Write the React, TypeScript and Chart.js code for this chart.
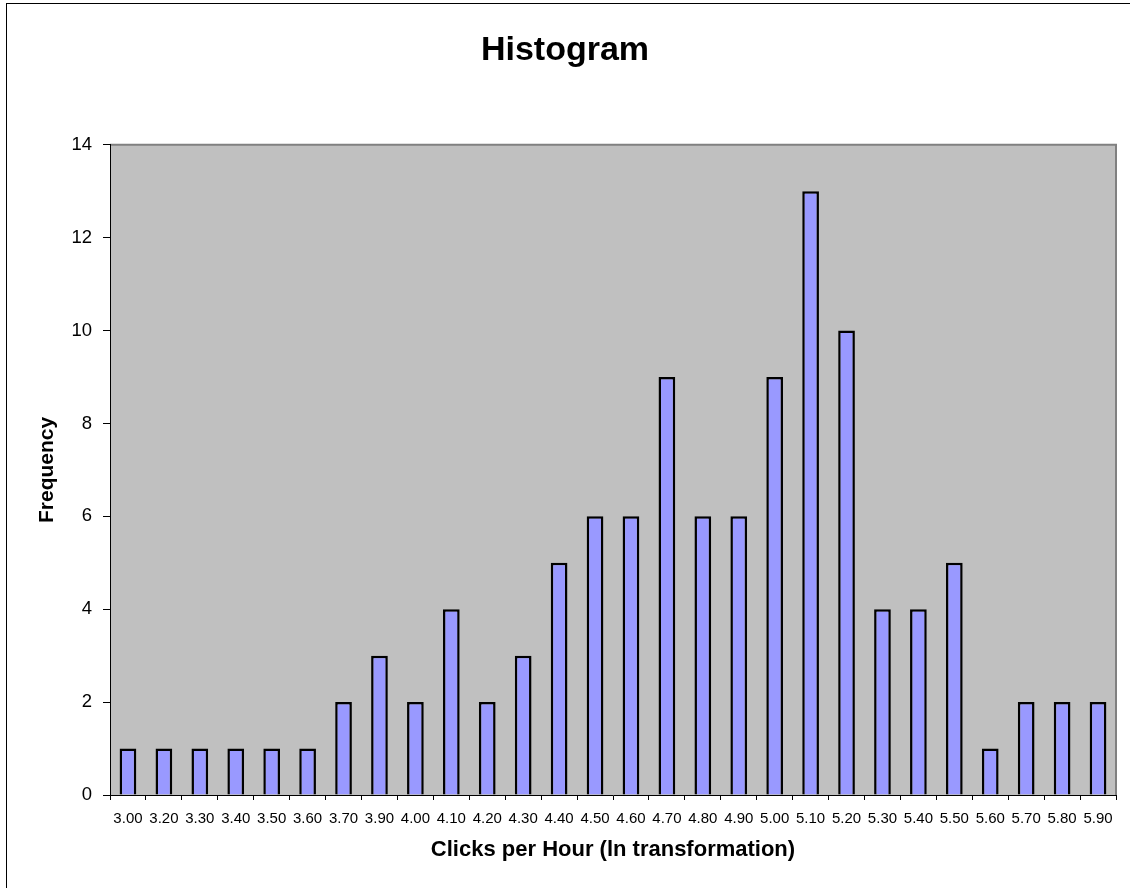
import React, { useEffect, useRef } from "react";
import { Chart, registerables } from "chart.js";

Chart.register(...registerables);

const categories = [
  "3.00", "3.20", "3.30", "3.40", "3.50", "3.60", "3.70", "3.90", "4.00", "4.10",
  "4.20", "4.30", "4.40", "4.50", "4.60", "4.70", "4.80", "4.90", "5.00", "5.10",
  "5.20", "5.30", "5.40", "5.50", "5.60", "5.70", "5.80", "5.90",
];
const frequency = [
  1, 1, 1, 1, 1, 1, 2, 3, 2, 4,
  2, 3, 5, 6, 6, 9, 6, 6, 9, 13,
  10, 4, 4, 5, 1, 2, 2, 2,
];
const yTicks = [0, 2, 4, 6, 8, 10, 12, 14];

const FONT = "'Liberation Sans', Arial, sans-serif";

const frame = {
  id: "frame",
  beforeDraw(chart: any) {
    const { ctx, chartArea: a } = chart;
    ctx.save();
    ctx.fillStyle = "#ffffff";
    ctx.fillRect(0, 0, chart.width, chart.height);
    ctx.strokeStyle = "#000000";
    ctx.lineWidth = 1;
    ctx.strokeRect(6.5, 3.5, chart.width + 20, chart.height + 20);
    ctx.fillStyle = "#C0C0C0";
    ctx.fillRect(a.left, a.top, a.right - a.left, a.bottom - a.top);
    ctx.strokeStyle = "#808080";
    ctx.lineWidth = 2;
    ctx.beginPath();
    ctx.moveTo(a.left, a.top);
    ctx.lineTo(a.right, a.top);
    ctx.lineTo(a.right, a.bottom);
    ctx.stroke();
    ctx.restore();
  },
};

export default function App() {
  const ref = useRef<HTMLCanvasElement>(null);
  useEffect(() => {
    if (!ref.current) return;
    const chart = new Chart(ref.current, {
      type: "bar",
      data: {
        labels: categories,
        datasets: [
          {
            data: frequency,
            backgroundColor: "#9999FF",
            borderColor: "#000000",
            borderWidth: 2.5,
            barPercentage: 0.465,
            categoryPercentage: 1,
          },
        ],
      },
      options: {
        responsive: false,
        animation: false,
        layout: { padding: { left: 14, right: 14, top: 0, bottom: 0 } },
        plugins: {
          legend: { display: false },
          tooltip: { enabled: false },
          title: {
            display: true,
            text: "Histogram",
            color: "#000",
            font: { family: FONT, size: 34, weight: "bold" },
            padding: { top: 30, bottom: 74 },
          },
        },
        scales: {
          x: {
            afterFit: (s: any) => { s.height = 93; },
            grid: {
              offset: true,
              drawOnChartArea: false,
              drawTicks: true,
              tickLength: 5,
              color: "#000",
            },
            border: { display: true, color: "#000", width: 1 },
            ticks: {
              color: "#000",
              font: { family: FONT, size: 15 },
              padding: 10,
              maxRotation: 0,
              autoSkip: false,
            },
            title: {
              display: true,
              text: "Clicks per Hour (ln transformation)",
              color: "#000",
              font: { family: FONT, size: 22, weight: "bold" },
              padding: { top: 0, bottom: 25 },
            },
          },
          y: {
            min: 0,
            max: 14,
            afterFit: (s: any) => { s.width = 96; },
            afterBuildTicks: (s: any) => { s.ticks = yTicks.map((v) => ({ value: v })); },
            grid: {
              drawOnChartArea: false,
              drawTicks: true,
              tickLength: 7,
              color: "#000",
            },
            border: { display: true, color: "#000", width: 1 },
            ticks: {
              color: "#000",
              font: { family: FONT, size: 18.5 },
              padding: 11,
            },
            title: {
              display: true,
              text: "Frequency",
              color: "#000",
              font: { family: FONT, size: 21, weight: "bold" },
              padding: { top: 21, bottom: 0 },
            },
          },
        },
      },
      plugins: [frame],
    });
    return () => chart.destroy();
  }, []);
  return (
    <div style={{ position: "absolute", left: 0, top: 0, width: 1130, height: 888, background: "#fff" }}>
      <canvas ref={ref} width={1130} height={888} style={{ display: "block" }} />
    </div>
  );
}
